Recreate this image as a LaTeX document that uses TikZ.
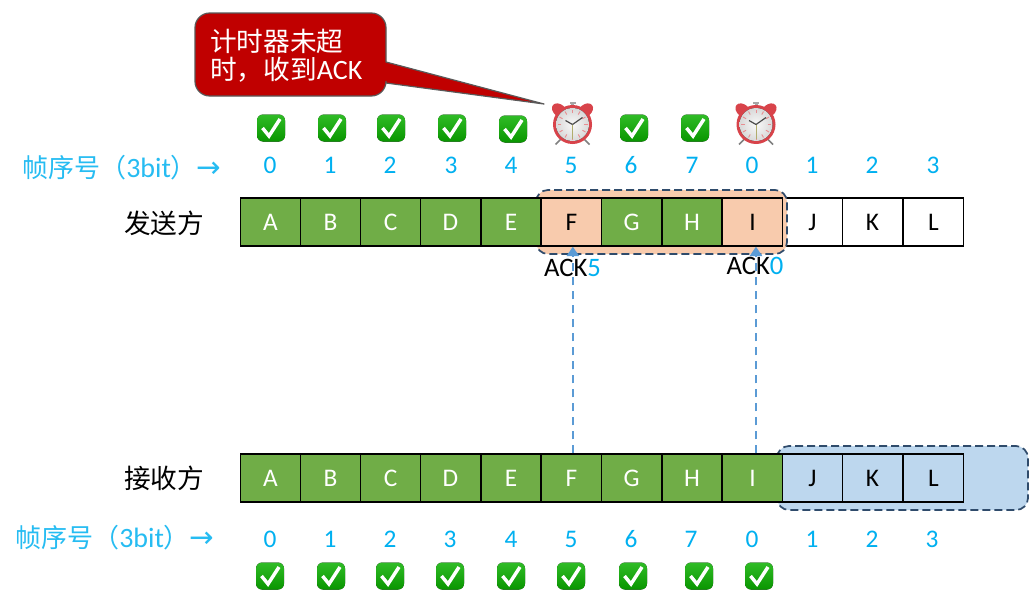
\documentclass[tikz,border=0pt]{standalone}
\usepackage{fontspec}
\setmainfont{Carlito}
\newfontfamily\cjk{Noto Sans CJK SC}
\newfontfamily\sym{DejaVu Sans}
\usetikzlibrary{arrows.meta,calc}
\definecolor{cellgreen}{HTML}{70AD47}
\definecolor{numblue}{HTML}{00B0F0}
\definecolor{peach}{HTML}{F8CBAD}
\definecolor{paleblue}{HTML}{BDD7EE}
\definecolor{dashnavy}{HTML}{2F4B6B}
\definecolor{arrowblue}{HTML}{5B9BD5}
\definecolor{calloutred}{HTML}{C00000}
\definecolor{checkgreen}{HTML}{0BB000}
\definecolor{clockred}{HTML}{D8434A}
\newcommand{\seqtext}{帧序号\symbol{"FF08}{\fontspec{Carlito}\fontsize{21}{21}\selectfont 3bit}\symbol{"FF09}{\sym\fontsize{22}{20}\selectfont →}}
\tikzset{
  x=0.75pt,y=-0.75pt,
  cellbase/.style={draw=black,line width=1pt,minimum width=45.1pt,minimum height=36pt,inner sep=0pt,
    font=\fontsize{19}{19}\selectfont,text height=12pt,text depth=0pt},
  donecell/.style={cellbase,fill=cellgreen,text=white},
  sentcell/.style={cellbase,fill=peach,text=black},
  freecell/.style={cellbase,fill=white,text=black},
  wincell/.style={cellbase,fill=paleblue,text=black},
  numlabel/.style={text=numblue,inner sep=0pt,font=\fontsize{19}{19}\selectfont},
  seqlabel/.style={text=numblue!85!white,inner sep=0pt,anchor=west,font=\cjk\fontsize{19.5}{20}\selectfont},
  sidelabel/.style={text=black,inner sep=0pt,font=\cjk\fontsize{20}{20}\selectfont},
  acklabel/.style={inner sep=0pt,font=\fontsize{20}{20}\selectfont},
  winbox/.style={draw=dashnavy,line width=1.3pt,dash pattern=on 6pt off 3pt,rounded corners=9pt},
  ackline/.style={draw=arrowblue,line width=2pt,dash pattern=on 6pt off 4.5pt,-{Triangle[length=7pt,width=9pt,fill=arrowblue]}},
  pics/checkmark/.style={code={
    \fill[top color=checkgreen!85!white,bottom color=checkgreen!85!black,rounded corners=4.5pt] (-14,-13.5) rectangle (14,13.5);
    \draw[white,line width=2.6pt,line join=miter] (-8.5,0) -- (-2,8) -- (9,-9);
  }},
  pics/alarmclock/.style={code={
    \foreach \s in {-1,1}{
      \fill[clockred,rotate around={\s*40:(\s*13,-14)}] (\s*13,-14) ellipse[x radius=8.5,y radius=6];
      \draw[gray,line width=1.2pt] (\s*12,15) -- (\s*17,20);
    }
    \fill[gray!70] (-1.5,-21.5) rectangle (1.5,-18);
    \fill[gray!70] (-3,-22.5) rectangle (3,-21);
    \fill[clockred] (0,0) circle[radius=19.5];
    \fill[inner color=gray!5,outer color=gray!30] (0,0) circle[radius=16.5];
    \foreach \a in {0,30,...,330}{
      \draw[clockred!60!white,line width=0.7pt] (\a:11.5) -- (\a:15);
    }
    \draw[olive!55!gray!70,line width=0.5pt] (0,0) -- (0,14);
    \draw[black!70,line width=0.9pt] (0,0) -- (-7,-4);
    \draw[black!70,line width=0.9pt] (0,0) -- (10,-7);
  }}
}
\begin{document}
\begin{tikzpicture}
\useasboundingbox (0,0) rectangle (1034,596);
\fill[white] (0,0) rectangle (1034,596);

% callout
\draw[fill=calloutred,draw=black!65,line width=0.9pt,line join=round]
  (386,62) -- (544,104) -- (386,83)
  [rounded corners=11pt] -- (386,96) -- (195,96) -- (195,13) -- (386,13) [sharp corners] -- cycle;
\node[anchor=west,inner sep=0pt,text=white,font=\cjk\fontsize{20}{22}\selectfont] (calltop) at (210,41) {计时器未超};
\node[anchor=west,inner sep=0pt,text=white,font=\cjk\fontsize{20}{22}\selectfont] (callbot) at (210,70) {时\symbol{"FF0C}收到{\fontspec{Carlito}\fontsize{21}{22}\selectfont ACK}};

% tick marks and clocks, sender
\foreach \x/\y in {271/128,332/128,391/128,452/128,513/129,634/128,695/128}
  \pic at (\x,\y) {checkmark};
\pic at (572.5,124.5) {alarmclock};
\pic at (756,124.5) {alarmclock};

% sequence numbers, sender
\foreach \n/\x/\t in {n0/270/0,n1/330/1,n2/390/2,n3/451/3,n4/511/4,n5/571/5,n6/631/6,n7/692/7,n8/752/0,n9/812/1,n10/872/2,n11/933/3}
  \node[numlabel] (s\n) at (\x,165) {\t};
\node[seqlabel] (sseq) at (22,168) {\seqtext};
\node[sidelabel] (sside) at (164,223) {发送方};

% sender row
\foreach \c/\x in {J/812.5,K/872.5,L/933.5}
  \node[freecell] (s\c) at (\x,222) {\c};
\draw[winbox,fill=peach] (536,190) rectangle (787,254);
\foreach \c/\x/\k in {A/270.5/donecell,B/330.5/donecell,C/390.5/donecell,D/450.5/donecell,E/511/donecell,F/571.5/sentcell,G/631.5/donecell,H/692/donecell,I/752.5/sentcell}
  \node[\k] (s\c) at (\x,222) {\c};

% receiver window
\draw[winbox,fill=paleblue] (777,446) rectangle (1028,510);
\foreach \c/\x in {A/270.5,B/330.5,C/390.5,D/450.5,E/511,F/571.5,G/631.5,H/692,I/752.5}
  \node[donecell] (r\c) at (\x,478) {\c};
\foreach \c/\x in {J/812.5,K/872.5,L/933.5}
  \node[wincell] (r\c) at (\x,478) {\c};
\node[sidelabel] (rside) at (164,478) {接收方};

% sequence numbers, receiver
\foreach \n/\x/\t in {n0/270/0,n1/330/1,n2/390/2,n3/450/3,n4/511/4,n5/571/5,n6/631/6,n7/691/7,n8/752/0,n9/812/1,n10/872/2,n11/932/3}
  \node[numlabel] (r\n) at (\x,539) {\t};
\node[seqlabel] (rseq) at (15,538) {\seqtext};
\foreach \x in {270,331,390,450,511,571,633,699,759}
  \pic at (\x,576) {checkmark};

% ack connectors
\draw[ackline] ([xshift=1pt]rF.north) -- ([xshift=1pt]sF.south);
\draw[ackline] ([xshift=2.6pt]rI.north) -- ([xshift=2.6pt]sI.south);
\node[acklabel] (ack5) at (572.5,268) {ACK\textcolor{numblue}{5}};
\node[acklabel] (ack0) at (755,266) {ACK\textcolor{numblue}{0}};
\end{tikzpicture}
\end{document}
